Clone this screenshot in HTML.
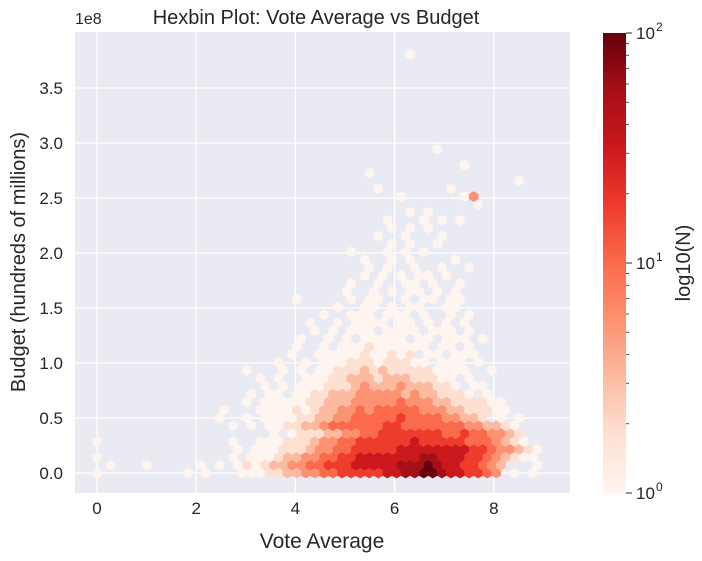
<!DOCTYPE html>
<html><head><meta charset="utf-8"><style>
html,body{margin:0;padding:0;background:#fff;}
svg{display:block;font-family:"Liberation Sans","DejaVu Sans",sans-serif;}
</style></head><body>
<svg id="chart" width="702" height="561" viewBox="0 0 702 561" xmlns="http://www.w3.org/2000/svg">
<rect x="75" y="32" width="495" height="461" fill="#eaeaf2"/>
<g id="grid"></g>
<g id="hexes"></g>
<g id="axes"></g>
<text x="316" y="24" text-anchor="middle" font-size="20" fill="#262626">Hexbin Plot: Vote Average vs Budget</text>
<text x="322" y="548" text-anchor="middle" font-size="21" fill="#262626">Vote Average</text>
<text transform="translate(25,262) rotate(-90)" text-anchor="middle" font-size="20" fill="#262626">Budget (hundreds of millions)</text>
<text x="75" y="24" font-size="16" fill="#262626">1e8</text>
<defs><linearGradient id="reds" x1="0" y1="1" x2="0" y2="0">
<stop offset="0" stop-color="#fff5f0"/><stop offset="0.125" stop-color="#fee0d2"/><stop offset="0.25" stop-color="#fcbba1"/><stop offset="0.375" stop-color="#fc9272"/><stop offset="0.5" stop-color="#fb6a4a"/><stop offset="0.625" stop-color="#ef3b2c"/><stop offset="0.75" stop-color="#cb181d"/><stop offset="0.875" stop-color="#a50f15"/><stop offset="1" stop-color="#67000d"/>
</linearGradient></defs>
<rect x="603" y="33" width="23" height="460" fill="url(#reds)"/>
<g id="cbticks"></g>
<text transform="translate(690,263) rotate(-90)" text-anchor="middle" font-size="20" fill="#262626">log10(N)</text>
</svg>
<script>
const xTicks = [0, 2, 4, 6, 8];
const yTicks = [0, 0.5, 1.0, 1.5, 2.0, 2.5, 3.0, 3.5];
const yTickLabels = ["0.0","0.5","1.0","1.5","2.0","2.5","3.0","3.5"];
const cbTicks = [0, 1, 2];
const cbTickLabels = ["10","10","10"];
const cbTickExp = ["0","1","2"];
const hexDx = 0.183;      // vote units per column
const hexDy = 0.0718;     // 1e8 units per row
// each char: '.' empty, digits 1..9 => log10(count) = (d-1)/4
const hexRows = [
"1.........1.1...11122334455666667788998776654.1.1.",
".1...1.....1.1.121233445566677777888987766543...1.",
"1..............1.11123344556677777778877766543211.",
"...............1.11122234455666667777777766544321.",
"1..............1..1112223445566666676666655543210..",
"...................1.12223344556666666556554432....",
"...............1.1.1122334555555665555555443321...",
".............1..1.1111223344555556555544332.1.1...",
"..............1...1111212334454555554443322211....",
"................1.111112233344444544433222211.....",
".................1.11.11223334444434332221.1......",
"..................1.1.111222343334333221.11.......",
"..................1.1..11122333233322211.1........",
"................1...1.1.11222323222221111..1......",
"....................1..1.111222122211.111.1.......",
".....................1..11111211212.11.111........",
"......................1..1.1112111111.11.1........",
"......................1..1.1.11111.11.111.1.......",
"........................1.1.111.1111.111.1........",
".......................1..1.1111.11.1.1.1.........",
".........................1..111.111.1..1.1........",
"..........................1..11.1.11..11..........",
"......................1.....1.11..1.11.11.........",
"...........................1..1.1.11.1.1..........",
"............................1..1..11.1..1.........",
".............................1.1.1.11.1...........",
"..............................1.1..1..1..1........",
".............................1..1.1....1..........",
"............................1...1.1.1.............",
"................................1.1..1............",
"...............................1..1...1...........",
"................................1.1.1.............",
"................................1...1.1.1.........",
"..................................1.1.............",
"..........................................1.......",
".................................1......14........",
"...............................1.......1..........",
"..............................................1...",
"..............................1...................",
"........................................1.........",
"..................................................",
".....................................1............",
"..................................................",
"..................................................",
"..................................................",
"..................................................",
"..................................................",
"..................................................",
"..................................................",
"..................................................",
"..................................................",
"..................................................",
"..................................................",
"..................................1..............."
];
const colors = ["#fff5f0","#fee0d2","#fcbba1","#fc9272","#fb6a4a","#ef3b2c","#cb181d","#a50f15","#67000d"];

const X0=97, XS=49.6, Y0=473, YS=110;
function xs(v){return X0+v*XS;}
function ys(b){return Y0-b*YS;}
const NS="http://www.w3.org/2000/svg";
function mk(tag,attrs,parent){const e=document.createElementNS(NS,tag);for(const k in attrs)e.setAttribute(k,attrs[k]);parent.appendChild(e);return e;}

const grid=document.getElementById('grid'), axes=document.getElementById('axes');
xTicks.forEach(v=>{
  const l=mk('line',{x1:xs(v),x2:xs(v),y1:32,y2:493,stroke:'#fff','stroke-width':1.3},grid);
  
  
  const t=mk('text',{x:xs(v),y:514,'text-anchor':'middle','font-size':17,fill:'#262626'},axes);
  t.textContent=v;
  
  
});
yTicks.forEach((v,i)=>{
  const l=mk('line',{x1:75,x2:570,y1:ys(v),y2:ys(v),stroke:'#fff','stroke-width':1.3},grid);
  
  
  const t=mk('text',{x:63,y:ys(v)+6,'text-anchor':'end','font-size':17,fill:'#262626'},axes);
  t.textContent=yTickLabels[i];
  
  
});

const hexG=document.getElementById('hexes');
const w=hexDx*XS, r=w/Math.sqrt(3);
hexRows.forEach((row,ri)=>{
  for(let c=0;c<row.length;c++){
    const ch=row[c];
    const d=parseInt(ch,10);
    if(!(d>=1&&d<=9))continue;
    const vote=c*hexDx+(ri%2?hexDx/2:0);
    const bud=ri*hexDy;
    const cx=xs(vote), cy=ys(bud);
    const pts=[[0,-r],[w/2,-r/2],[w/2,r/2],[0,r],[-w/2,r/2],[-w/2,-r/2]].map(p=>(cx+p[0]).toFixed(2)+','+(cy+p[1]).toFixed(2)).join(' ');
    const h=mk('polygon',{points:pts,fill:colors[d-1],stroke:colors[d-1],'stroke-width':0.3},hexG);
    
    
  }
});

const cb=document.getElementById('cbticks');
function cby(l){return 493-l*230;}
cbTicks.forEach((l,i)=>{
  mk('line',{x1:626,x2:632,y1:cby(l),y2:cby(l),stroke:'#262626','stroke-width':1},cb);
  const t=mk('text',{x:636,y:cby(l)+6,'font-size':17,fill:'#262626'},cb);
  t.textContent=cbTickLabels[i];
  
  
  const e=mk('text',{x:656,y:cby(l)-2,'font-size':12,fill:'#262626'},cb);
  e.textContent=cbTickExp[i];
  
  
});
for(let dec=0;dec<2;dec++)for(let m=2;m<10;m++){
  const y=cby(dec+Math.log10(m));
  mk('line',{x1:626,x2:629,y1:y,y2:y,stroke:'#262626','stroke-width':0.8},cb);
}
</script>
</body></html>
